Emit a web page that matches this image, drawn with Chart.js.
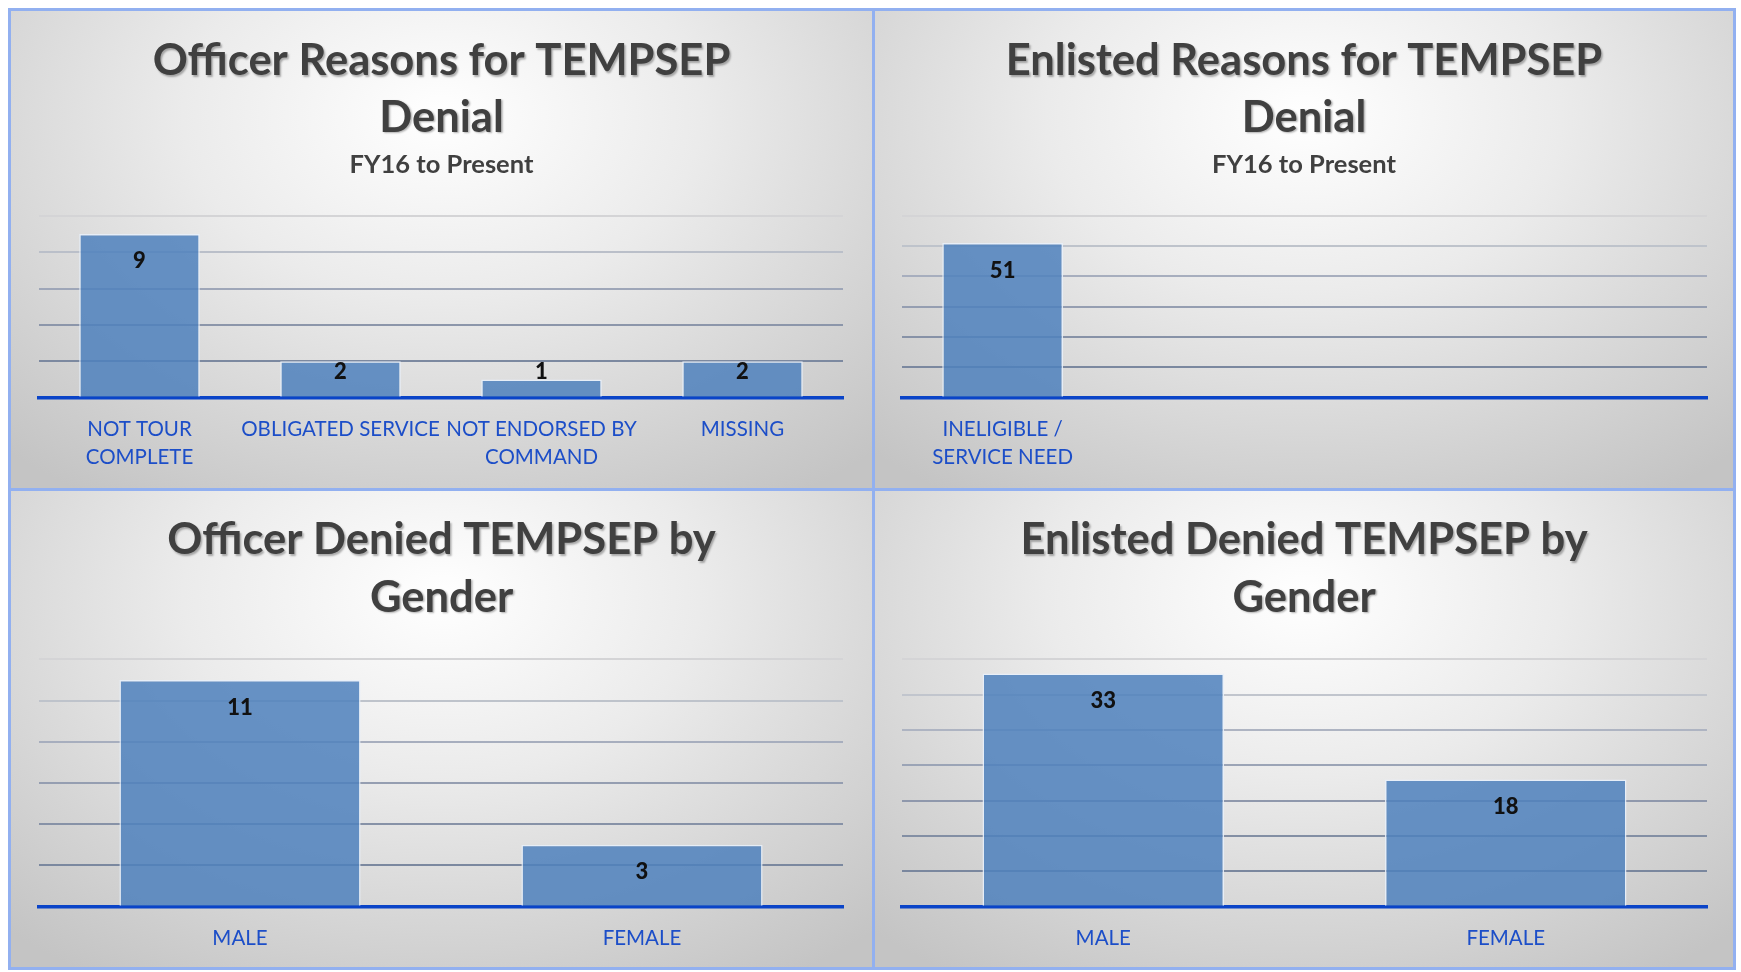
<!DOCTYPE html>
<html>
<head>
<meta charset="utf-8">
<script src="https://cdn.jsdelivr.net/npm/chart.js@4.4.1/dist/chart.umd.min.js"></script>
<style>
  html, body { margin:0; padding:0; background:#ffffff; width:1741px; height:972px; overflow:hidden; }
  .panel { position:absolute; background: radial-gradient(ellipse 75% 95% at 50% 22%, #ffffff 0%, #ebebeb 40%, #d4d4d4 75%, #c4c4c4 100%); }
  .panel canvas { position:absolute; left:0; top:0; }
  .bline { position:absolute; background:#92b0f0; }
</style>
</head>
<body>
<div class="panel" id="pTL" style="left:11px;top:11px;width:861px;height:477px;"><canvas id="cTL" width="861" height="477"></canvas></div>
<div class="panel" id="pTR" style="left:875px;top:11px;width:858px;height:477px;"><canvas id="cTR" width="858" height="477"></canvas></div>
<div class="panel" id="pBL" style="left:11px;top:491px;width:861px;height:476px;"><canvas id="cBL" width="861" height="476"></canvas></div>
<div class="panel" id="pBR" style="left:875px;top:491px;width:858px;height:476px;"><canvas id="cBR" width="858" height="476"></canvas></div>
<div class="bline" style="left:8px;top:8px;width:1728px;height:3px;"></div>
<div class="bline" style="left:8px;top:967px;width:1728px;height:3px;"></div>
<div class="bline" style="left:8px;top:8px;width:3px;height:962px;"></div>
<div class="bline" style="left:1733px;top:8px;width:3px;height:962px;"></div>
<div class="bline" style="left:872px;top:8px;width:3px;height:962px;"></div>
<div class="bline" style="left:8px;top:488px;width:1728px;height:3px;"></div>
<script>
// ---------- DATA ----------
const officerReasonLabels = [["NOT TOUR", "COMPLETE"], "OBLIGATED SERVICE", ["NOT ENDORSED BY", "COMMAND"], "MISSING"];
const officerReasonValues = [9, 2, 1, 2];
const officerReasonTitle = ["Officer Reasons for TEMPSEP", "Denial"];

const enlistedReasonLabels = [["INELIGIBLE /", "SERVICE NEED"], "", "", ""];
const enlistedReasonValues = [51, null, null, null];
const enlistedReasonTitle = ["Enlisted Reasons for TEMPSEP", "Denial"];

const reasonSubtitle = "FY16 to Present";

const genderLabels = ["MALE", "FEMALE"];
const officerGenderValues = [11, 3];
const officerGenderTitle = ["Officer Denied TEMPSEP by", "Gender"];
const enlistedGenderValues = [33, 18];
const enlistedGenderTitle = ["Enlisted Denied TEMPSEP by", "Gender"];

const officerReasonAxis = { max: 10, step: 2 };
const enlistedReasonAxis = { max: 60, step: 10 };
const officerGenderAxis = { max: 12, step: 2 };
const enlistedGenderAxis = { max: 35, step: 5 };

// ---------- STYLE ----------
const BAR_FILL = 'rgba(79,129,189,0.86)';
const BAR_EDGE = 'rgba(232,240,250,0.9)';
const AXIS_BLUE = '#0a44c8';
const LABEL_BLUE = '#1c4ec8';
const TITLE_COLOR = '#404040';
const FONT = 'Lato, "Open Sans", sans-serif';

const gridStops = [
  [0.0, [118,130,154]],
  [0.2, [124,137,160]],
  [0.4, [140,150,170]],
  [0.6, [158,166,184]],
  [0.8, [186,191,201]],
  [1.0, [212,212,214]]
];
function gridColor(f) {
  for (let i = 1; i < gridStops.length; i++) {
    if (f <= gridStops[i][0] + 1e-9) {
      const [f0, c0] = gridStops[i-1], [f1, c1] = gridStops[i];
      const t = (f - f0) / (f1 - f0);
      const c = c0.map((v, k) => Math.round(v + (c1[k] - v) * t));
      return `rgb(${c[0]},${c[1]},${c[2]})`;
    }
  }
  return 'rgb(212,212,214)';
}

const titlePlugin = {
  id: 'panelTitle',
  afterDraw(chart, args, opts) {
    const ctx = chart.ctx;
    ctx.save();
    ctx.textAlign = 'center';
    ctx.textBaseline = 'alphabetic';
    ctx.fillStyle = TITLE_COLOR;
    ctx.shadowColor = 'rgba(0,0,0,0.30)';
    ctx.shadowOffsetX = 1.5;
    ctx.shadowOffsetY = 1.5;
    ctx.shadowBlur = 2;
    const cx = chart.width / 2;
    ctx.font = `bold ${opts.size}px ${FONT}`;
    opts.lines.forEach((t, i) => ctx.fillText(t, cx, opts.baselines[i]));
    ctx.shadowColor = 'transparent';
    if (opts.subtitle) {
      ctx.font = `bold ${opts.subSize}px ${FONT}`;
      ctx.fillText(opts.subtitle, cx, opts.subBaseline);
    }
    ctx.restore();
  }
};

const valueLabelPlugin = {
  id: 'valueLabels',
  afterDatasetsDraw(chart) {
    const ctx = chart.ctx;
    const meta = chart.getDatasetMeta(0);
    const vals = chart.data.datasets[0].data;
    ctx.save();
    ctx.font = `900 22px ${FONT}`;
    ctx.fillStyle = '#111111';
    ctx.textAlign = 'center';
    ctx.textBaseline = 'middle';
    meta.data.forEach((el, i) => {
      if (vals[i] == null) return;
      const y = Math.min(el.y + 27.5, el.base - 24.5);
      ctx.fillText(String(vals[i]), el.x, y);
    });
    ctx.restore();
  }
};

function makeChart(id, cfg) {
  const canvas = document.getElementById(id);
  const H = canvas.height;
  return new Chart(canvas, {
    type: 'bar',
    data: {
      labels: cfg.labels,
      datasets: [{
        data: cfg.values,
        backgroundColor: BAR_FILL,
        borderColor: BAR_EDGE,
        borderWidth: 1.5,
        borderSkipped: 'start',
        categoryPercentage: 1.0,
        barPercentage: 0.6
      }]
    },
    options: {
      responsive: false,
      animation: false,
      devicePixelRatio: 1,
      layout: { padding: { left: cfg.left, right: cfg.right, top: cfg.top, bottom: 0 } },
      plugins: {
        legend: { display: false },
        tooltip: { enabled: false },
        title: { display: false },
        panelTitle: cfg.title
      },
      scales: {
        x: {
          grid: { display: false, drawTicks: false },
          border: { display: true, color: AXIS_BLUE, width: 3.5 },
          ticks: {
            color: LABEL_BLUE,
            font: { family: FONT, size: 20.5, lineHeight: 1.39 },
            padding: 17,
            maxRotation: 0,
            minRotation: 0,
            autoSkip: false
          },
          afterFit(s) { s.height = H - cfg.bottom; }
        },
        y: {
          min: 0,
          max: cfg.axis.max,
          ticks: { display: false, stepSize: cfg.axis.step },
          grid: {
            drawTicks: false,
            lineWidth: 2,
            color: (c) => gridColor(c.tick ? c.tick.value / cfg.axis.max : 0)
          },
          border: { display: false },
          afterFit(s) { s.width = 0; }
        }
      }
    },
    plugins: [titlePlugin, valueLabelPlugin]
  });
}

const reasonTitleOpts = (lines) => ({ lines, size: 43.5, baselines: [64, 120.7], subtitle: reasonSubtitle, subSize: 25.5, subBaseline: 162 });
const genderTitleOpts = (lines) => ({ lines, size: 43.5, baselines: [63, 120.7] });

makeChart('cTL', { labels: officerReasonLabels, values: officerReasonValues, axis: officerReasonAxis,
  left: 28, right: 29, top: 204.7, bottom: 386.7, title: reasonTitleOpts(officerReasonTitle) });
makeChart('cTR', { labels: enlistedReasonLabels, values: enlistedReasonValues, axis: enlistedReasonAxis,
  left: 27, right: 26, top: 204.7, bottom: 386.7, title: reasonTitleOpts(enlistedReasonTitle) });
makeChart('cBL', { labels: genderLabels, values: officerGenderValues, axis: officerGenderAxis,
  left: 28, right: 29, top: 168.3, bottom: 415.7, title: genderTitleOpts(officerGenderTitle) });
makeChart('cBR', { labels: genderLabels, values: enlistedGenderValues, axis: enlistedGenderAxis,
  left: 27, right: 26, top: 168.3, bottom: 415.7, title: genderTitleOpts(enlistedGenderTitle) });
</script>
</body>
</html>
